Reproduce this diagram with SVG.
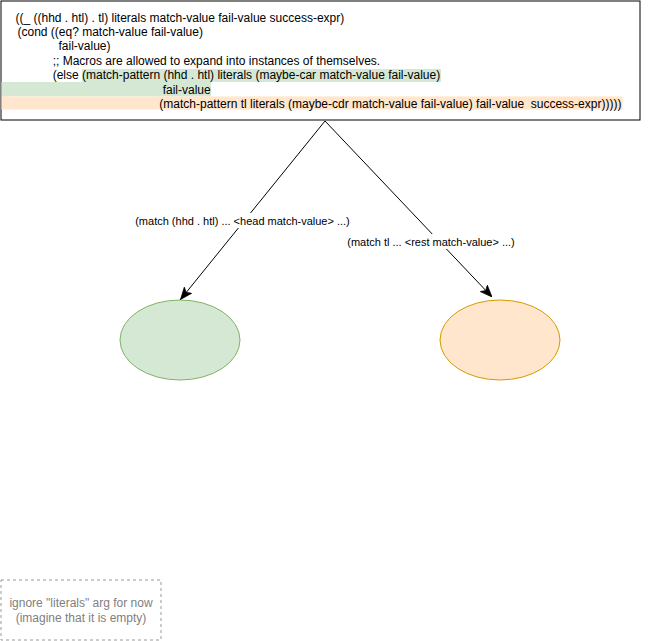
<svg xmlns="http://www.w3.org/2000/svg" width="651" height="641" viewBox="0 0 651 641">
  <style>
    .code { font-family: "Liberation Sans", Arial, Helvetica, sans-serif; font-size: 12px; fill: #000000; }
    .lbl { font-family: "Liberation Sans", Arial, Helvetica, sans-serif; font-size: 11px; fill: #000000; text-anchor: middle; }
    .note { font-family: "Liberation Sans", Arial, Helvetica, sans-serif; font-size: 12px; fill: #808080; text-anchor: middle; }
    .edge { fill: none; stroke: #000000; stroke-width: 1; }
    .green { fill: #d5e8d4; }
    .orange { fill: #ffe6cc; }
  </style>
  <defs>
    <marker id="arrow" markerUnits="userSpaceOnUse" markerWidth="12" markerHeight="12" viewBox="0 0 10 10" refX="10" refY="5" orient="auto">
      <path d="M0,1 L10,5 L0,9 L2.5,5 Z" fill="#000000" stroke="#000000" stroke-width="0.6"/>
    </marker>
  </defs>
  <rect width="651" height="641" fill="#ffffff"/>

  <g id="code-box">
    <rect x="1" y="1" width="639" height="119" fill="#ffffff" stroke="#000000" stroke-width="1"/>
    <rect class="green" x="82" y="69" width="359" height="13"/>
    <rect class="green" x="1.5" y="82" width="209.5" height="14.4"/>
    <rect class="orange" x="1.5" y="96.4" width="621" height="13.2"/>
    <text class="code" x="15.5" y="21.5">((_ ((hhd . htl) . tl) literals match-value fail-value success-expr)</text>
    <text class="code" x="17.5" y="35.9">(cond ((eq? match-value fail-value)</text>
    <text class="code" x="58.5" y="50.3">fail-value)</text>
    <text class="code" x="52.7" y="64.7">;; Macros are allowed to expand into instances of themselves.</text>
    <text class="code" x="52.7" y="79.2">(else (match-pattern (hhd . htl) literals (maybe-car match-value fail-value)</text>
    <text class="code" x="162.7" y="93.5">fail-value</text>
    <text class="code" x="159.3" y="107.8">(match-pattern tl literals (maybe-cdr match-value fail-value) fail-value &#160;success-expr)))))</text>
  </g>

  <g id="head-node">
    <ellipse cx="180" cy="340" rx="60" ry="40" fill="#d5e8d4" stroke="#82b366" stroke-width="1"/>
  </g>

  <g id="rest-node">
    <ellipse cx="500" cy="340" rx="60" ry="40" fill="#ffe6cc" stroke="#d79b00" stroke-width="1"/>
  </g>

  <g id="note">
    <rect x="1" y="580" width="160" height="60" fill="none" stroke="#999999" stroke-width="1" stroke-dasharray="3 3"/>
    <text class="note" x="81" y="607.1">ignore "literals" arg for now</text>
    <text class="note" x="81" y="621.5">(imagine that it is empty)</text>
  </g>

  <g id="connectors">
    <path class="edge" d="M325,121 L180.5,299.5" marker-end="url(#arrow)"/>
    <path class="edge" d="M325,121 L492,297" marker-end="url(#arrow)"/>
    <rect x="134" y="213" width="216" height="15" fill="#ffffff"/>
    <text class="lbl" x="242.5" y="224.6">(match (hhd . htl) ... &lt;head match-value&gt; ...)</text>
    <rect x="347" y="234" width="168" height="15" fill="#ffffff"/>
    <text class="lbl" x="431" y="245.6">(match tl ... &lt;rest match-value&gt; ...)</text>
  </g>
</svg>
